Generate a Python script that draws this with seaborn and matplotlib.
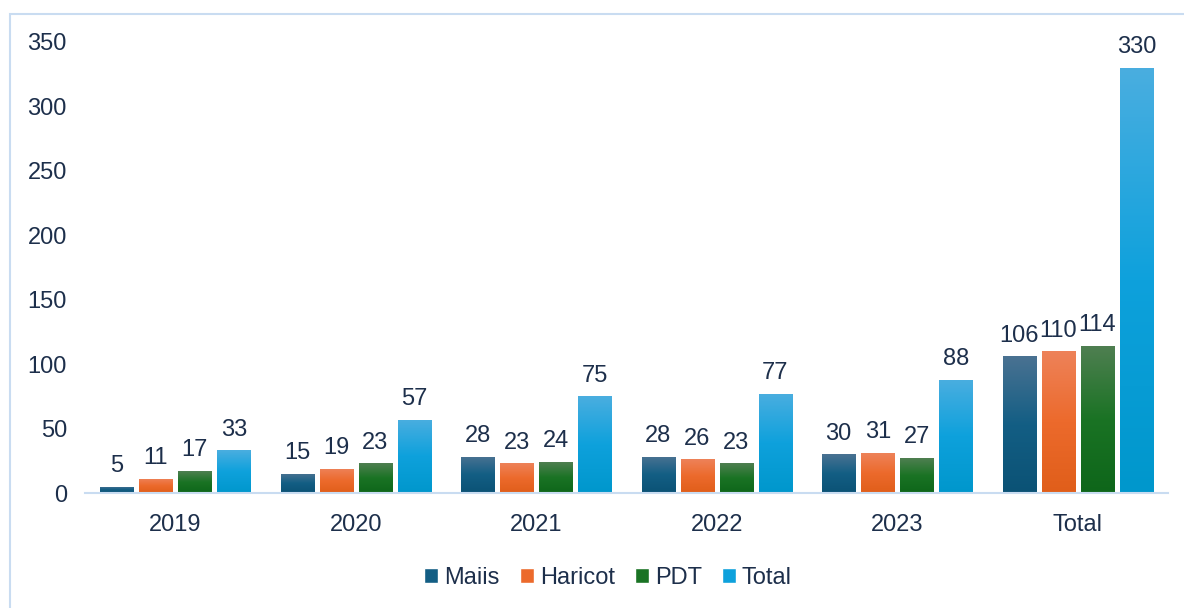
import numpy as np
import pandas as pd
import matplotlib
matplotlib.use("Agg")
import matplotlib.pyplot as plt
import matplotlib.colors as mcolors
from matplotlib.patches import Rectangle
import seaborn as sns

# --- data ---
categories = ["2019", "2020", "2021", "2022", "2023", "Total"]
series = ["Maiis", "Haricot", "PDT", "Total"]
maiis = [5, 15, 28, 28, 30, 106]
haricot = [11, 19, 23, 26, 31, 110]
pdt = [17, 23, 24, 23, 27, 114]
total = [33, 57, 75, 77, 88, 330]

colors = {"Maiis": "#135e84", "Haricot": "#ec6a2c", "PDT": "#1a7324", "Total": "#0ea1dc"}
tops = {"Maiis": "#4a7292", "Haricot": "#ee8259", "PDT": "#4f7f51", "Total": "#4aaee0"}
bottoms = {"Maiis": "#0b5275", "Haricot": "#e05e1a", "PDT": "#0e661a", "Total": "#0097cc"}

rows = []
for name, vals in zip(series, [maiis, haricot, pdt, total]):
    for c, v in zip(categories, vals):
        rows.append({"Année": c, "Série": name, "Valeur": v})
df = pd.DataFrame(rows)

sns.set_style("white")
plt.rcParams["font.family"] = ["Liberation Sans", "DejaVu Sans"]
txt = "#1d2f4b"
fs = 17

fig = plt.figure(figsize=(11.84, 6.08), dpi=100)
ax = fig.add_axes([85 / 1184, 115 / 608, (1168 - 85) / 1184, (493 - 42) / 608])

sns.barplot(data=df, x="Année", y="Valeur", hue="Série", order=categories,
            hue_order=series, palette=colors, width=0.865, gap=0.15,
            saturation=1, ax=ax, legend=True)

# gradient fill on each bar (lighter at top, darker at bottom)
for cont, name in zip(ax.containers, series):
    cmap = mcolors.LinearSegmentedColormap.from_list(
        name, [bottoms[name], colors[name], tops[name]])
    grad = np.linspace(0, 1, 256).reshape(-1, 1)
    for p in cont.patches:
        x0, y0 = p.get_x(), p.get_y()
        w, h = p.get_width(), p.get_height()
        im = ax.imshow(grad, cmap=cmap, origin="lower", aspect="auto",
                       extent=[x0, x0 + w, y0, y0 + h], zorder=p.get_zorder() + 0.1)
        im.set_clip_path(p)
    ax.bar_label(cont, padding=7, fontsize=fs, color=txt)

ax.set_xlim(-0.5, 5.5)
ax.set_ylim(0, 350)
ax.set_yticks(range(0, 351, 50))
ax.set_xlabel("")
ax.set_ylabel("")
ax.tick_params(axis="y", length=0, pad=13, labelsize=fs, labelcolor=txt)
ax.tick_params(axis="x", length=0, pad=15, labelsize=fs, labelcolor=txt)
for s in ["top", "right", "left"]:
    ax.spines[s].set_visible(False)
ax.spines["bottom"].set_color("#c9dcf1")
ax.spines["bottom"].set_linewidth(1.5)

leg = ax.legend(loc="center", bbox_to_anchor=(608 / 1184, 30 / 608),
                bbox_transform=fig.transFigure, ncol=4, frameon=False,
                fontsize=fs, handlelength=0.6, handleheight=0.6,
                handletextpad=0.25, columnspacing=0.85)
for t in leg.get_texts():
    t.set_color(txt)

# light blue frame around the chart area
fig.patches.append(Rectangle((10 / 1184, -0.2), 1.5, (594 / 608) + 0.2,
                             transform=fig.transFigure, fill=False,
                             edgecolor="#c9dcf1", linewidth=1.5))

fig.savefig("out.png", dpi=100)
